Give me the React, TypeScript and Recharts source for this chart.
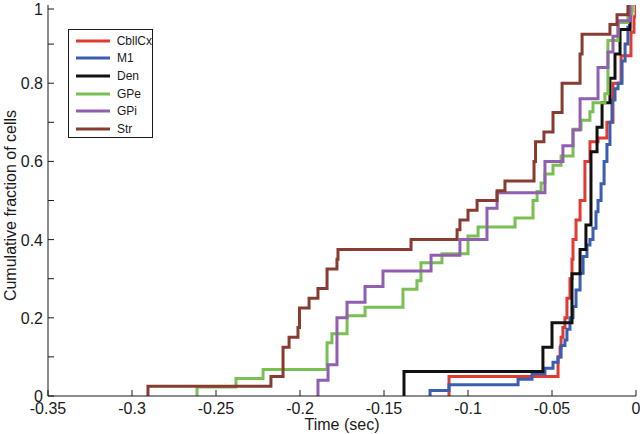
import { LineChart, Line, XAxis, YAxis, Legend } from "recharts";

// [time (sec), cumulative fraction], one list per area
const cbllcx: [number, number][] = [
  [-0.1113, 0.05], [-0.0464, 0.1], [-0.0452, 0.125], [-0.0446, 0.15], [-0.0435, 0.175],
  [-0.0423, 0.2], [-0.0411, 0.25], [-0.0393, 0.3], [-0.0381, 0.35], [-0.0375, 0.4],
  [-0.0357, 0.45], [-0.0333, 0.5], [-0.0304, 0.6], [-0.0274, 0.65], [-0.0226, 0.66],
  [-0.0173, 0.7], [-0.0137, 0.8], [-0.0089, 0.87], [-0.003, 0.93], [-0.0012, 0.97], [0, 1],
];
const m1: [number, number][] = [
  [-0.1226, 0.014], [-0.1113, 0.029], [-0.0702, 0.043], [-0.0619, 0.057], [-0.0542, 0.071],
  [-0.0494, 0.086], [-0.0464, 0.1], [-0.0446, 0.129], [-0.0423, 0.143], [-0.0411, 0.171],
  [-0.0393, 0.2], [-0.0375, 0.229], [-0.0357, 0.271], [-0.0333, 0.314], [-0.0315, 0.357],
  [-0.0292, 0.386], [-0.0274, 0.4], [-0.0256, 0.429], [-0.0238, 0.471], [-0.0226, 0.5],
  [-0.0208, 0.543], [-0.019, 0.6], [-0.0173, 0.643], [-0.0155, 0.7], [-0.0143, 0.757],
  [-0.0125, 0.786], [-0.0107, 0.8], [-0.0083, 0.857], [-0.0065, 0.9], [-0.0048, 0.943],
  [-0.0036, 0.986], [-0.0024, 1],
];
const den: [number, number][] = [
  [-0.1381, 0.0625], [-0.0554, 0.125], [-0.05, 0.1875], [-0.0381, 0.3125], [-0.0333, 0.375],
  [-0.0298, 0.4375], [-0.0268, 0.625], [-0.0232, 0.6875], [-0.0202, 0.75], [-0.0155, 0.8125],
  [-0.0125, 0.875], [-0.0095, 0.9375], [-0.0036, 1],
];
const gpe: [number, number][] = [
  [-0.2613, 0.023], [-0.2381, 0.045], [-0.222, 0.068], [-0.1839, 0.136], [-0.181, 0.159],
  [-0.172, 0.205], [-0.1613, 0.227], [-0.1387, 0.273], [-0.1304, 0.295], [-0.128, 0.341],
  [-0.1155, 0.364], [-0.1, 0.409], [-0.094, 0.432], [-0.072, 0.455], [-0.0613, 0.5],
  [-0.0589, 0.523], [-0.0565, 0.545], [-0.0542, 0.568], [-0.0494, 0.59], [-0.0446, 0.614],
  [-0.0375, 0.682], [-0.0327, 0.705], [-0.0274, 0.727], [-0.0256, 0.75], [-0.0185, 0.773],
  [-0.0167, 0.909], [-0.0107, 0.955], [-0.0048, 0.977], [-0.0024, 1],
];
const gpi: [number, number][] = [
  [-0.1893, 0.04], [-0.1833, 0.08], [-0.178, 0.2], [-0.172, 0.24], [-0.1613, 0.28],
  [-0.1506, 0.32], [-0.122, 0.36], [-0.1048, 0.4], [-0.0887, 0.48], [-0.0827, 0.52],
  [-0.0542, 0.6], [-0.0435, 0.64], [-0.0375, 0.68], [-0.0333, 0.76], [-0.0226, 0.84],
  [-0.0167, 0.88], [-0.0137, 0.92], [-0.0107, 0.96], [-0.0036, 1],
];
const str: [number, number][] = [
  [-0.2905, 0.025], [-0.2173, 0.05], [-0.2101, 0.125], [-0.2065, 0.15], [-0.2012, 0.175],
  [-0.2003, 0.225], [-0.1946, 0.25], [-0.1893, 0.275], [-0.1839, 0.325], [-0.178, 0.35],
  [-0.1774, 0.375], [-0.1339, 0.4], [-0.1065, 0.425], [-0.1048, 0.45], [-0.1, 0.475],
  [-0.0946, 0.5], [-0.0827, 0.525], [-0.078, 0.55], [-0.0607, 0.6], [-0.0598, 0.65],
  [-0.0548, 0.675], [-0.0494, 0.725], [-0.044, 0.8], [-0.0333, 0.875], [-0.0321, 0.925],
  [-0.0155, 0.95], [-0.0113, 0.975], [-0.0048, 1],
];

const xTicks = [-0.35, -0.3, -0.25, -0.2, -0.15, -0.1, -0.05, 0];
const yTicks = [0, 0.1, 0.2, 0.3, 0.4, 0.5, 0.6, 0.7, 0.8, 0.9, 1];
const yLabelled = [0, 0.2, 0.4, 0.6, 0.8, 1];

const series = [
  { name: "CbllCx", color: "#df3b33", points: cbllcx },
  { name: "M1", color: "#3b5eb0", points: m1 },
  { name: "Den", color: "#111111", points: den },
  { name: "GPe", color: "#79bf52", points: gpe },
  { name: "GPi", color: "#915fb0", points: gpi },
  { name: "Str", color: "#883c31", points: str },
];

const FONT = "'Liberation Sans', Arial, Helvetica, sans-serif";
const INK = "#1a1a1a";

// empirical cdf: start from zero at the first event
const toSteps = (pts: [number, number][]) => [
  { t: pts[0][0], f: 0 },
  ...pts.map(([t, f]) => ({ t, f })),
];

function BottomTick({ x, y, payload }: any) {
  return (
    <g>
      <line x1={x} x2={x} y1={y} y2={y - 6} stroke={INK} />
      <text x={x} y={y + 18} textAnchor="middle" fontSize={16} fontFamily={FONT} fill={INK}>
        {String(payload.value)}
      </text>
    </g>
  );
}

function TopTick({ x, y }: any) {
  return <line x1={x} x2={x} y1={y} y2={y + 6} stroke={INK} />;
}

function LeftTick({ x, y, payload }: any) {
  const v = payload.value;
  const show = yLabelled.some((l) => Math.abs(l - v) < 1e-6);
  return (
    <g>
      <line x1={x} x2={x + 6} y1={y} y2={y} stroke={INK} />
      {show && (
        <text x={x - 5} y={y + 6} textAnchor="end" fontSize={16} fontFamily={FONT} fill={INK}>
          {String(Math.round(v * 10) / 10)}
        </text>
      )}
    </g>
  );
}

function RightTick({ x, y }: any) {
  return <line x1={x} x2={x - 6} y1={y} y2={y} stroke={INK} />;
}

// legend keeps the plotting order of the series
function LegendBox() {
  return (
    <div
      style={{
        boxSizing: "border-box",
        width: 85,
        height: 109,
        border: `1px solid ${INK}`,
        background: "#fff",
        padding: "2px 0 0 7px",
        fontFamily: FONT,
        fontSize: 12,
        color: INK,
      }}
    >
      {series.map((s) => (
        <div key={s.name} style={{ display: "flex", alignItems: "center", height: 17.6 }}>
          <svg width={34} height={6} style={{ display: "block" }}>
            <line x1={0} x2={34} y1={3} y2={3} stroke={s.color} strokeWidth={3} />
          </svg>
          <span style={{ marginLeft: 7 }}>{s.name}</span>
        </div>
      ))}
    </div>
  );
}

export default function App() {
  return (
    <div style={{ position: "absolute", left: 0, top: 0, background: "#fff" }}>
      <LineChart width={640} height={434} margin={{ top: 5, right: 4, bottom: 0, left: 0 }}>
        <XAxis
          dataKey="t"
          type="number"
          domain={[-0.35, 0]}
          ticks={xTicks}
          allowDataOverflow
          height={38}
          tickSize={0}
          tickMargin={0}
          tick={<BottomTick />}
          axisLine={{ stroke: INK }}
          label={{
            value: "Time (sec)",
            position: "insideBottom",
            offset: 4,
            style: { fontSize: 16, fontFamily: FONT, fill: INK },
          }}
        />
        <XAxis
          xAxisId="top"
          orientation="top"
          dataKey="t"
          type="number"
          domain={[-0.35, 0]}
          ticks={xTicks}
          allowDataOverflow
          height={0}
          tickSize={0}
          tickMargin={0}
          tick={<TopTick />}
          axisLine={{ stroke: INK }}
        />
        <YAxis
          type="number"
          domain={[0, 1]}
          ticks={yTicks}
          allowDataOverflow
          width={48}
          tickSize={0}
          tickMargin={0}
          tick={<LeftTick />}
          axisLine={{ stroke: INK }}
          label={{
            value: "Cumulative fraction of cells",
            angle: -90,
            position: "center",
            dx: -14,
            dy: 5,
            style: { fontSize: 16, fontFamily: FONT, fill: INK },
          }}
        />
        <YAxis
          yAxisId="right"
          orientation="right"
          type="number"
          domain={[0, 1]}
          ticks={yTicks}
          allowDataOverflow
          width={0}
          tickSize={0}
          tickMargin={0}
          tick={<RightTick />}
          axisLine={{ stroke: INK }}
        />
        <Legend
          layout="vertical"
          align="center"
          verticalAlign="middle"
          wrapperStyle={{ left: 68, top: 29, width: 85, height: 109 }}
          content={<LegendBox />}
        />
        {series.map((s) => (
          <Line
            key={s.name}
            name={s.name}
            data={toSteps(s.points)}
            dataKey="f"
            type="stepAfter"
            stroke={s.color}
            strokeWidth={3}
            dot={false}
            activeDot={false}
            isAnimationActive={false}
          />
        ))}
      </LineChart>
    </div>
  );
}
